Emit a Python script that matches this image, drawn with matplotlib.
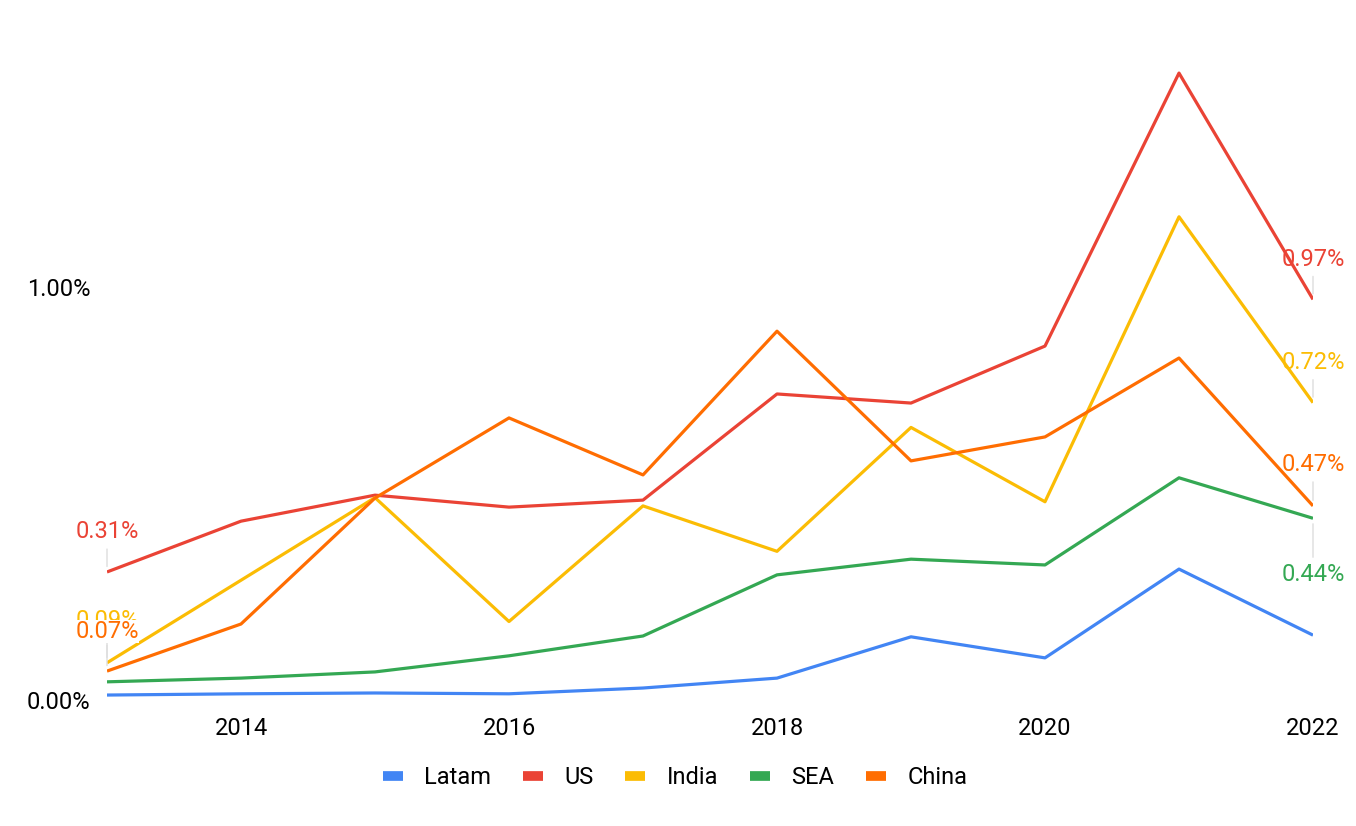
import numpy as np
import matplotlib
matplotlib.use("Agg")
import matplotlib.pyplot as plt
from matplotlib.lines import Line2D

plt.rcParams['font.family'] = ['Roboto', 'DejaVu Sans']

years = [2013, 2014, 2015, 2016, 2017, 2018, 2019, 2020, 2021, 2022]
series_names = ["Latam", "US", "India", "SEA", "China"]
latam = [0.012, 0.015, 0.017, 0.015, 0.029, 0.053, 0.153, 0.102, 0.317, 0.157]
us = [0.31, 0.433, 0.496, 0.467, 0.484, 0.741, 0.719, 0.857, 1.518, 0.97]
india = [0.09, 0.29, 0.49, 0.19, 0.47, 0.36, 0.66, 0.48, 1.17, 0.72]
sea = [0.044, 0.053, 0.068, 0.107, 0.155, 0.303, 0.341, 0.327, 0.538, 0.44]
china = [0.07, 0.184, 0.489, 0.683, 0.545, 0.893, 0.579, 0.637, 0.828, 0.47]
colors = ["#4285F4", "#EA4335", "#FBBC04", "#34A853", "#FF6D01"]

# labelled end points: (series index, year index, offset px up)
point_labels = [(1, 0, 40), (2, 0, 42), (4, 0, 40),
                (1, 9, 40), (2, 9, 40), (4, 9, 41), (3, 9, -56)]

W, H = 1356, 826
fig = plt.figure(figsize=(W / 100, H / 100), dpi=100)
ax = fig.add_axes([107 / W, 1 - 700 / H, (1313 - 107) / W, (700 - 40) / H])

data = [latam, us, india, sea, china]
for name, vals, c in zip(series_names, data, colors):
    ax.plot(years, vals, color=c, lw=2.3, solid_capstyle='butt', label=name)

ax.set_xlim(2013, 2022)
ax.set_ylim(0, 660 / 413)
ax.set_xticks([2014, 2016, 2018, 2020, 2022])
ax.set_yticks([0, 1.0])
ax.set_yticklabels(["0.00%", "1.00%"])
ax.tick_params(length=0, labelsize=17, colors="#000000")
ax.tick_params(axis='y', pad=12)
ax.tick_params(axis='x', pad=12)
for s in ax.spines.values():
    s.set_visible(False)

for si, yi, off in point_labels:
    v = data[si][yi]
    txt = "%.2f%%" % v
    bbox = None
    if si == 4 and yi == 0:
        bbox = dict(boxstyle="square,pad=0.0", fc="white", ec="none")
    ax.annotate(txt, xy=(years[yi], v), xytext=(0, off),
                textcoords='offset pixels', ha='center', va='center',
                fontsize=17, color=colors[si], bbox=bbox, zorder=5,
                arrowprops=dict(arrowstyle='-', color='#dddddd', lw=1,
                                shrinkA=2, shrinkB=4))

handles = [Line2D([], [], color=c, lw=7, solid_capstyle='butt') for c in colors]
fig.legend(handles, series_names, loc='center', bbox_to_anchor=(675 / W, 1 - 778 / H),
           ncol=5, frameon=False, fontsize=17, handlelength=0.85,
           columnspacing=1.35, handletextpad=0.9)

fig.savefig("out.png", dpi=100)
